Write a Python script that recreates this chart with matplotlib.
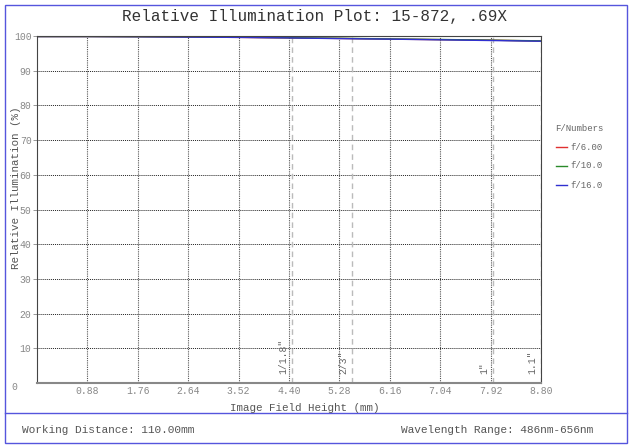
import matplotlib
matplotlib.use("Agg")
import matplotlib.pyplot as plt
from matplotlib.patches import Rectangle
from matplotlib.lines import Line2D

field = [0.0, 0.88, 1.76, 2.64, 3.52, 4.40, 5.28, 6.16, 7.04, 7.92, 8.80]
f6 = [99.85, 99.85, 99.8, 99.7, 99.6, 99.45, 99.3, 99.1, 98.95, 98.8, 98.55]
f10 = [99.85, 99.85, 99.8, 99.75, 99.65, 99.5, 99.35, 99.15, 99.0, 98.8, 98.6]
f16 = [99.85, 99.85, 99.8, 99.7, 99.6, 99.45, 99.25, 99.1, 98.9, 98.7, 98.5]
series_names = ["f/6.00", "f/10.0", "f/16.0"]
series_colors = ["#e03030", "#2a8a2a", "#3030d0"]

sensor_names = ['1/1.8"', '2/3"', '1"', '1.1"']
sensor_pos = [4.45, 5.5, 7.96, 8.8]

xticks = [0.88, 1.76, 2.64, 3.52, 4.40, 5.28, 6.16, 7.04, 7.92, 8.80]
yticks = [10, 20, 30, 40, 50, 60, 70, 80, 90, 100]

plt.rcParams['font.family'] = ['Liberation Mono', 'DejaVu Sans Mono']

fig = plt.figure(figsize=(6.3, 4.45), dpi=100)
W, H = 630, 445

# outer blue frame and footer separator
fig.add_artist(Rectangle((5 / W, 2 / H), 622 / W, 438 / H, transform=fig.transFigure,
                         fill=False, edgecolor="#5555dd", linewidth=1))
fig.add_artist(Line2D([5 / W, 627 / W], [1 - 413 / H, 1 - 413 / H], transform=fig.transFigure,
                      color="#5555dd", linewidth=1))

ax = fig.add_axes([37 / W, 62 / H, 504 / W, 347 / H])

for vals, name, col in zip([f6, f10, f16], series_names, series_colors):
    ax.plot(field, vals, color=col, linewidth=1, label=name)

ax.set_xlim(0, 8.8)
ax.set_ylim(0, 100)
ax.set_xticks(xticks)
ax.set_xticklabels([f"{t:.2f}" for t in xticks])
ax.set_yticks(yticks)
ax.set_yticklabels([str(t) for t in yticks])
ax.tick_params(axis='both', labelsize=7, colors="#888888", length=3, width=0.6)
ax.tick_params(axis='x', pad=2, length=0)
ax.tick_params(axis='y', pad=1)

for t in yticks[:-1]:
    ax.axhline(t, color="#222222", linestyle=(0, (1, 1)), linewidth=0.7, zorder=0)
for t in xticks[:-1]:
    ax.axvline(t, color="#555555", linestyle=(0, (1, 1)), linewidth=0.8, zorder=0)

for name, pos in zip(sensor_names, sensor_pos):
    ax.axvline(pos, color="#bbbbbb", linestyle=(0, (4, 3)), linewidth=1, zorder=0)
    ax.text(pos - 0.06, 2.5, name, rotation=90, ha='right', va='bottom',
            fontsize=7, color="#666666")

for s in ['left', 'top']:
    ax.spines[s].set_color("#444444")
ax.spines['right'].set_color("#444444")
ax.spines['right'].set_linestyle((0, (2, 1)))
ax.spines['bottom'].set_color("#888888")
ax.spines['bottom'].set_linewidth(1.5)

fig.text(14 / W, 1 - 387 / H, "0", ha='center', va='center', fontsize=7, color="#888888")

fig.text(305 / W, 1 - 408 / H, "Image Field Height (mm)", ha='center', va='center',
         fontsize=7.8, color="#555555")
fig.text(16 / W, 1 - 188 / H, "Relative Illumination (%)", ha='center', va='center',
         rotation=90, fontsize=7.8, color="#555555")

fig.text(315 / W, 1 - 17 / H, "Relative Illumination Plot: 15-872, .69X",
         ha='center', va='center', fontsize=11.5, color="#333333")

# legend
fig.text(555 / W, 1 - 128 / H, "F/Numbers", ha='left', va='center', fontsize=6.5, color="#666666")
for i, (name, col) in enumerate(zip(series_names, series_colors)):
    yy = 1 - (147 + 19 * i) / H
    fig.add_artist(Line2D([556 / W, 567 / W], [yy, yy], transform=fig.transFigure,
                          color=col, linewidth=1))
    fig.text(570 / W, yy, name, ha='left', va='center', fontsize=6.5, color="#666666")

fig.text(22 / W, 1 - 430 / H, "Working Distance: 110.00mm", ha='left', va='center',
         fontsize=8, color="#555555")
fig.text(593 / W, 1 - 430 / H, "Wavelength Range: 486nm-656nm", ha='right', va='center',
         fontsize=8, color="#555555")

fig.savefig("out.png", dpi=100)
